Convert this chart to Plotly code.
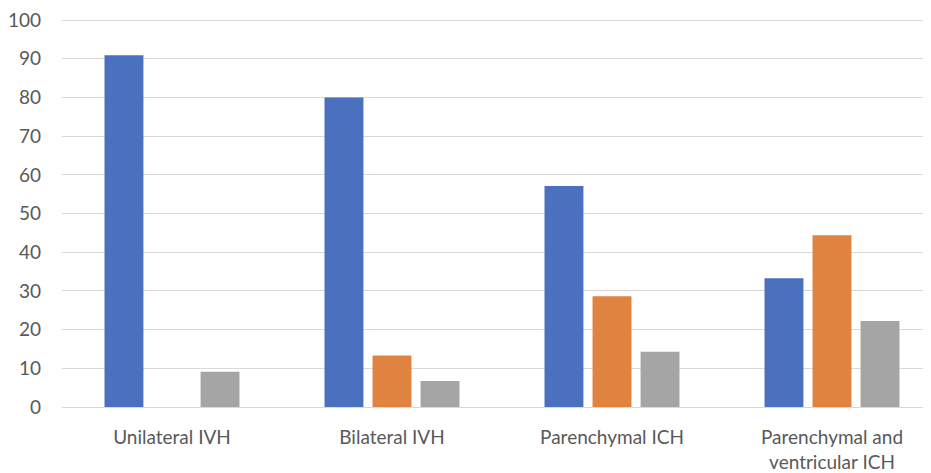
import plotly.graph_objects as go

categories = ["Unilateral IVH", "Bilateral IVH", "Parenchymal ICH", "Parenchymal and<br>ventricular ICH"]
series_blue = [90.9, 80.0, 57.1, 33.3]
series_orange = [0, 13.3, 28.6, 44.4]
series_gray = [9.1, 6.7, 14.3, 22.2]
y_ticks = [0, 10, 20, 30, 40, 50, 60, 70, 80, 90, 100]

colors = ["#4A70BE", "#E08240", "#A5A5A5"]

fig = go.Figure()
for vals, c in zip([series_blue, series_orange, series_gray], colors):
    fig.add_trace(go.Bar(x=list(range(len(categories))), y=vals, marker=dict(color=c, line=dict(width=0)),
                         showlegend=False))

fig.update_layout(
    width=931, height=473,
    margin=dict(l=54, r=8, t=11, b=74),
    paper_bgcolor="white", plot_bgcolor="white",
    barmode="group", bargap=0.345, bargroupgap=0.19,
    font=dict(family="Lato", size=19, color="#595959"),
)
fig.update_xaxes(
    tickmode="array", tickvals=list(range(len(categories))), ticktext=categories,
    range=[-0.5, 3.45], showgrid=False, zeroline=False,
    showline=True, linecolor="#d9d9d9", linewidth=1,
    ticks="", ticklabelstandoff=13, automargin=False,
)
fig.update_yaxes(
    range=[0, 100.3], tickmode="array", tickvals=y_ticks, ticktext=[str(v) for v in y_ticks],
    showgrid=True, gridcolor="#d9d9d9", gridwidth=1, ticklabeloverflow="allow",
    zeroline=False, showline=False, ticks="", ticklabelstandoff=20, automargin=False,
)
fig.write_html("out.html")
